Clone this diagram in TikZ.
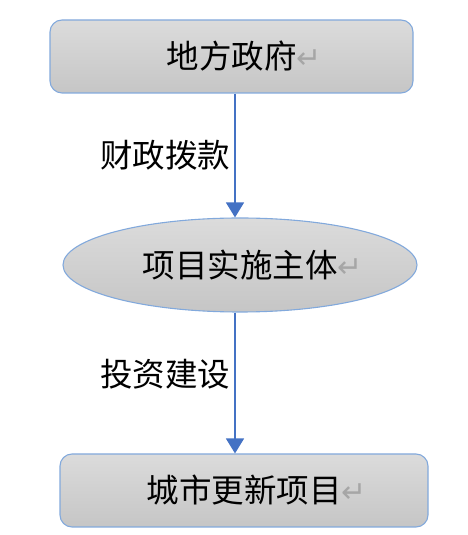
\documentclass[tikz,border=0pt]{standalone}
\usepackage{fontspec}
\newfontfamily\cjk{Noto Sans CJK SC}
\newfontfamily\symfont{DejaVu Sans}
\usetikzlibrary{arrows.meta,positioning,shapes.geometric}

\definecolor{edgeblue}{HTML}{82A9DC}
\definecolor{arrowblue}{HTML}{4472C4}
\definecolor{markgray}{HTML}{A6A6A6}
\newcommand{\retmark}{\rlap{\symfont\fontsize{30pt}{30pt}\selectfont\color{markgray}↵}}

\begin{document}
\begin{tikzpicture}[
        x=1pt, y=1pt,
        box/.style={draw=edgeblue, line width=1.1pt, rounded corners=12pt,
          top color=gray!28, bottom color=gray!45, minimum height=73pt,
          font=\cjk\fontsize{32.5pt}{32.5pt}\selectfont},
        oval/.style={box, ellipse, rounded corners=0pt, minimum width=354pt,
          minimum height=94pt, inner sep=0pt},
        arr/.style={-{Triangle[width=18pt,length=15pt]}, draw=arrowblue,
          line width=1.4pt},
        lbl/.style={font=\cjk\fontsize{32.5pt}{32.5pt}\selectfont, inner sep=4pt}
      ]
        \useasboundingbox (0,0) rectangle (467,535);
        \node[box, minimum width=363pt] (gov) at (231.5,478.5) {地方政府\retmark};
        \node[oval] (entity) at (240,270) {项目实施主体\retmark};
        \node[box, minimum width=368pt] (project) at (244,44.5) {城市更新项目\retmark};
        \coordinate (ax) at (235,0);
        \draw[arr] (gov.south -| ax) -- (entity.north -| ax)
          node[lbl, midway, left] (fund) {财政拨款};
        \draw[arr] (entity.south -| ax) -- (project.north -| ax)
          node[lbl, pos=0.44, left] (invest) {投资建设};
      \end{tikzpicture}
\end{document}
